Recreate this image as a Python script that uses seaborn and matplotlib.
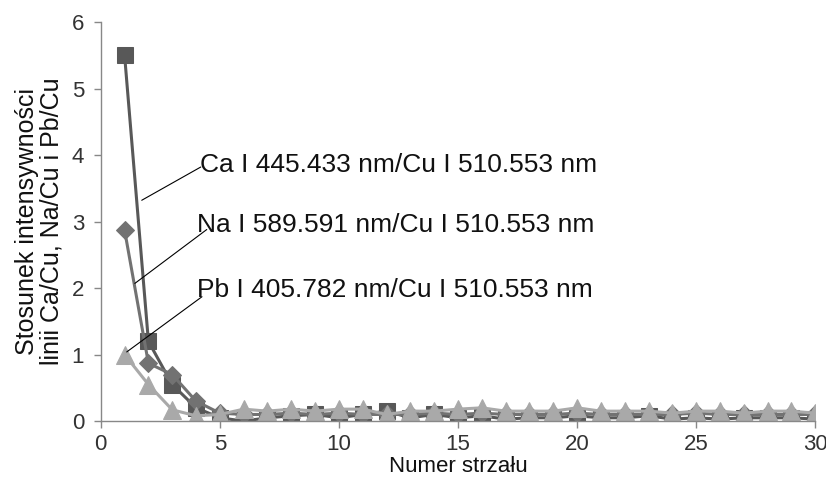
import pandas as pd
import matplotlib
matplotlib.use('Agg')
import matplotlib.pyplot as plt
import seaborn as sns

sns.set_theme(style="white", palette=None)
plt.rcParams['font.family'] = ['Liberation Sans', 'DejaVu Sans']

#Shot numbers and line-intensity ratios
shots = list(range(1, 31))
ca = [5.5, 1.2, 0.55, 0.2, 0.05, 0.0, 0.05, 0.08, 0.1, 0.05, 0.1, 0.15, 0.05, 0.1, 0.05,
      0.08, 0.03, 0.05, 0.05, 0.08, 0.05, 0.05, 0.08, 0.03, 0.05, 0.03, 0.05, 0.05, 0.05, 0.03]
na = [2.87, 0.87, 0.7, 0.3, 0.12, 0.1, 0.1, 0.12, 0.1, 0.12, 0.1, 0.1, 0.1, 0.12, 0.1,
      0.12, 0.1, 0.1, 0.1, 0.12, 0.1, 0.1, 0.1, 0.1, 0.12, 0.1, 0.1, 0.1, 0.1, 0.1]
pb = [1.0, 0.55, 0.17, 0.08, 0.1, 0.18, 0.15, 0.18, 0.15, 0.18, 0.18, 0.1, 0.15, 0.15, 0.18,
      0.2, 0.15, 0.15, 0.15, 0.2, 0.15, 0.15, 0.15, 0.12, 0.15, 0.15, 0.12, 0.15, 0.15, 0.12]

labels = ['Ca I 445.433 nm/Cu I 510.553 nm',
          'Na I 589.591 nm/Cu I 510.553 nm',
          'Pb I 405.782 nm/Cu I 510.553 nm']
colors = ['#585858', '#727272', '#a9a9a9']
markers = ['s', 'D', '^']
msizes = [12, 9, 13]

fig = plt.figure(figsize=(8.26, 4.78), dpi=100)
ax = fig.add_axes([0.122, 0.119, 0.865, 0.835])

for vals, lab, c, m, ms in zip([ca, na, pb], labels, colors, markers, msizes):
    df = pd.DataFrame({'shot': shots, 'ratio': vals})
    sns.lineplot(data=df, x='shot', y='ratio', ax=ax, color=c, marker=m, markersize=ms,
                 markeredgecolor=c, linewidth=2.2, label=lab, legend=False)

#Callout labels with leader lines
text_pos = [(4.15, 3.85), (4.05, 2.95), (4.05, 1.97)]
line_start = [(4.2, 3.82), (4.45, 2.88), (4.25, 1.87)]
line_end = [(1.72, 3.32), (1.43, 2.07), (1.09, 1.04)]
for lab, tp, ls, le in zip(labels, text_pos, line_start, line_end):
    ax.plot([ls[0], le[0]], [ls[1], le[1]], color='black', linewidth=0.8)
    ax.text(tp[0], tp[1], lab, fontsize=19, ha='left', va='center', color='#111111')

ax.set_xlim(0, 30)
ax.set_ylim(0, 6)
ax.set_xticks(range(0, 31, 5))
ax.set_yticks(range(0, 7))
ax.tick_params(axis='both', direction='out', length=5, width=1, color='#888888',
               labelsize=16, labelcolor='#333333', bottom=True, left=True)
ax.tick_params(axis='x', pad=4)
ax.tick_params(axis='y', pad=7)
for s in ['top', 'right']:
    ax.spines[s].set_visible(False)
for s in ['left', 'bottom']:
    ax.spines[s].set_color('#888888')
    ax.spines[s].set_linewidth(1)

ax.set_xlabel('Numer strzału', fontsize=16, labelpad=1, color='#111111')
ax.set_ylabel('Stosunek intensywności\nlinii Ca/Cu, Na/Cu i Pb/Cu', fontsize=18,
              labelpad=6, color='#111111', linespacing=1.0)

plt.savefig('out.png', dpi=100)
